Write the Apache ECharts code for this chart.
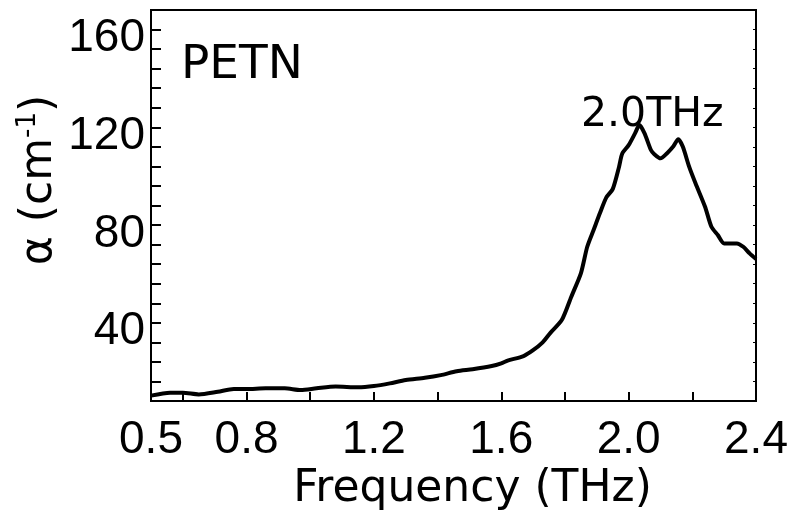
<!DOCTYPE html>
<html>
<head>
<meta charset="utf-8">
<script src="https://cdn.jsdelivr.net/npm/echarts@6/dist/echarts.min.js"></script>
<style>
  html, body { margin: 0; padding: 0; background: #fff; }
  #chart { width: 797px; height: 517px; }
</style>
</head>
<body>
<div id="chart"></div>
<script>
// Absorption spectrum of PETN: frequency (THz) vs absorption coefficient (cm^-1)
const frequency = [
  0.50, 0.56, 0.60, 0.65, 0.71, 0.76, 0.80, 0.86, 0.92, 0.97,
  1.02, 1.08, 1.15, 1.20, 1.25, 1.30, 1.36, 1.41, 1.46, 1.51,
  1.57, 1.60, 1.62, 1.67, 1.70, 1.73, 1.755, 1.79, 1.82, 1.85, 1.87,
  1.89, 1.91, 1.93, 1.95, 1.97, 1.98, 2.00, 2.02, 2.034, 2.05,
  2.07, 2.08, 2.10, 2.12, 2.14, 2.156, 2.17, 2.19, 2.21, 2.24,
  2.26, 2.28, 2.30, 2.34, 2.36, 2.38, 2.40
];
const absorption = [
  10.2, 11.4, 11.4, 10.7, 11.8, 12.9, 12.9, 13.2, 13.2, 12.5,
  13.2, 13.9, 13.6, 14.1, 15.2, 16.6, 17.5, 18.6, 20.2, 21.0,
  22.3, 23.4, 24.5, 26.4, 28.8, 32.0, 36.0, 41.1, 50.7, 60.2, 71.1,
  78.0, 84.9, 91.3, 94.7, 103.9, 109.3, 112.7, 117.5, 120.9, 117.5,
  110.7, 109.1, 107.3, 109.3, 112.1, 115.1, 112.1, 103.9, 97.1, 87.5,
  79.3, 75.9, 72.5, 72.5, 71.1, 68.4, 66.1
];

const xTickValues = [0.6, 0.8, 1.0, 1.2, 1.4, 1.6, 1.8, 2.0, 2.2];
const xLabelValues = [0.5, 0.8, 1.2, 1.6, 2.0, 2.4];
const yLabelValues = [40, 80, 120, 160];

const numFont = '"Liberation Sans", Arial, sans-serif';
const textFont = '"DejaVu Sans", sans-serif';

const chart = echarts.init(document.getElementById('chart'), null, { renderer: 'canvas' });

chart.setOption({
  animation: false,
  backgroundColor: '#ffffff',
  grid: {
    left: 151, right: 41, top: 10, bottom: 116,
    outerBoundsMode: 'none',
    containLabel: false,
    show: true, borderColor: '#000', borderWidth: 2, backgroundColor: 'transparent'
  },
  xAxis: {
    type: 'value',
    min: 0.5, max: 2.4,
    name: 'Frequency (THz)',
    nameLocation: 'middle',
    nameGap: 66,
    nameTextStyle: { fontFamily: textFont, fontSize: 44, color: '#000', padding: [0, 0, 0, 38] },
    axisLine: { show: true, lineStyle: { color: '#000', width: 2 } },
    axisTick: { show: true, inside: true, length: 9, lineStyle: { color: '#000', width: 2 }, customValues: xTickValues },
    axisLabel: {
      customValues: xLabelValues,
      formatter: v => v.toFixed(1),
      fontFamily: numFont, fontSize: 46, color: '#000', margin: 16
    },
    splitLine: { show: false }
  },
  yAxis: [{
    type: 'value',
    min: 8, max: 168, interval: 8,
    axisLine: { show: true, lineStyle: { color: '#000', width: 2 } },
    axisTick: { show: true, inside: true, length: 10, lineStyle: { color: '#000', width: 2 } },
    axisLabel: {
      customValues: yLabelValues,
      formatter: v => '{n|' + v + '}',
      margin: 6,
      rich: {
        n: { fontFamily: numFont, fontSize: 46, color: '#000', padding: [18, 0, 0, 0] }
      }
    },
    splitLine: { show: false }
  }, {
    type: 'value',
    position: 'right',
    min: 8, max: 168, interval: 8,
    axisLine: { show: true, lineStyle: { color: '#000', width: 2 } },
    axisTick: { show: true, inside: true, length: 3, lineStyle: { color: '#000', width: 1 } },
    axisLabel: { show: false },
    splitLine: { show: false }
  }],
  series: [{
    type: 'line',
    data: frequency.map((f, i) => [f, absorption[i]]),
    showSymbol: false,
    smooth: 0.25,
    lineStyle: { color: '#000', width: 4 },
    clip: true
  }],
  graphic: [
    {
      type: 'text', left: 181, top: 42, silent: true,
      style: { text: 'PETN', fontFamily: textFont, fontSize: 47, fill: '#000' }
    },
    {
      type: 'text', left: 581, top: 95, silent: true,
      style: { text: '2.0THz', fontFamily: textFont, fontSize: 41, fill: '#000' }
    },
    {
      type: 'text', x: 40, y: 180, rotation: Math.PI / 2, silent: true,
      style: {
        text: '{a|α (cm}{s|-1}{a|)}',
        align: 'center', verticalAlign: 'middle',
        rich: {
          a: { fontFamily: textFont, fontSize: 44, fill: '#000', lineHeight: 50 },
          s: { fontFamily: textFont, fontSize: 26, fill: '#000', verticalAlign: 'top', lineHeight: 50, padding: [0, 0, 14, 0] }
        }
      }
    }
  ]
});
</script>
</body>
</html>
